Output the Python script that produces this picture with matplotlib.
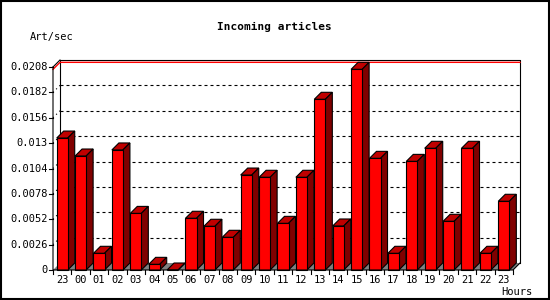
import matplotlib
matplotlib.use('Agg')
import matplotlib.pyplot as plt
from matplotlib.patches import Polygon, Rectangle

# data
hours = ['23', '00', '01', '02', '03', '04', '05', '06', '07', '08', '09', '10',
         '11', '12', '13', '14', '15', '16', '17', '18', '19', '20', '21', '22', '23']
art_sec = [0.01352, 0.01168, 0.00171, 0.0123, 0.0058, 0.00058, 0.0, 0.0053,
           0.00448, 0.00335, 0.00973, 0.0095, 0.00478, 0.0095, 0.01749, 0.00451,
           0.02056, 0.01144, 0.00171, 0.01113, 0.01247, 0.00499, 0.01247, 0.00171,
           0.00704]
yticks = [0, 0.0026, 0.0052, 0.0078, 0.0104, 0.013, 0.0156, 0.0182, 0.0208]
ytick_labels = ['0', '0.0026', '0.0052', '0.0078', '0.0104', '0.013',
                '0.0156', '0.0182', '0.0208']

FONT = 'DejaVu Sans Mono'
FRONT = '#ff0000'
TOP = '#c00000'
SIDE = '#800000'
FLOOR = '#808080'

fig = plt.figure(figsize=(5.5, 3), dpi=100)
fig.patch.set_facecolor('white')
fig.patches.append(Rectangle((0.001, 0.002), 0.997, 0.995, transform=fig.transFigure,
                             fill=False, edgecolor='black', linewidth=1.5))

# front plane of the plot: x 53..513 px, y 270..67 px
ax = fig.add_axes([53 / 550, 30 / 300, 460 / 550, 203 / 300])
ymax = yticks[-1]
ax.set_xlim(-0.5, len(hours) - 0.5)
ax.set_ylim(0, ymax)
ax.axis('off')

px_x = 460 / len(hours)
px_y = 203 / ymax
dx = 7 / px_x
dy = 7 / px_y
x0, x1 = -0.5, len(hours) - 0.5

# floor
ax.add_patch(Polygon([(x0, 0), (x0 + dx, dy), (x1 + dx, dy), (x1, 0)],
                     closed=True, facecolor=FLOOR, edgecolor='none',
                     clip_on=False, zorder=1))

# back wall
ax.plot([x0 + dx, x0 + dx, x1 + dx, x1 + dx], [dy, ymax + dy, ymax + dy, dy],
        color='black', lw=0.8, clip_on=False, zorder=2)
for v in yticks[1:-1]:
    ax.plot([x0 + dx, x1 + dx], [v + dy, v + dy], color='black', lw=0.8,
            linestyle=(0, (2.7, 2.7)), clip_on=False, zorder=2)
    ax.plot([x0, x0 + dx], [v, v + dy], color='black', lw=0.8,
            linestyle=(0, (1, 3)), clip_on=False, zorder=2)

# max line
vmax = max(art_sec)
ax.plot([x0, x0 + dx, x1 + dx], [vmax, vmax + dy, vmax + dy], color='red', lw=1,
        clip_on=False, zorder=2)

# front axis lines
ax.plot([x0, x0 + dx], [ymax, ymax + dy], color='black', lw=0.8, clip_on=False, zorder=2)
ax.plot([x0, x0, x1, x1 + dx], [ymax, 0, 0, dy], color='black', lw=0.8,
        clip_on=False, zorder=6)

# bars
w = 0.6
xs = list(range(len(hours)))
ax.bar(xs, art_sec, width=w, color=FRONT, edgecolor='black', lw=0.8, zorder=5,
       clip_on=False)
for x, v in zip(xs, art_sec):
    l = x - w / 2
    r = x + w / 2
    ax.add_patch(Polygon([(l, v), (r, v), (r + dx, v + dy), (l + dx, v + dy)],
                         closed=True, facecolor=TOP, edgecolor='black', lw=0.8,
                         clip_on=False, zorder=4))
    ax.add_patch(Polygon([(r, 0), (r + dx, dy), (r + dx, v + dy), (r, v)],
                         closed=True, facecolor=SIDE, edgecolor='black', lw=0.8,
                         clip_on=False, zorder=4))

# ticks and labels
tick_len_x = 4 / px_x
tick_len_y = 4 / px_y
for v, lab in zip(yticks, ytick_labels):
    ax.plot([x0 - tick_len_x, x0], [v, v], color='black', lw=0.8, clip_on=False)
    ax.text(x0 - 5 / px_x, v, lab, ha='right', va='center', fontsize=7.5,
            family=FONT, clip_on=False)
for k in range(len(hours) + 1):
    ax.plot([x0 + k, x0 + k], [0, -tick_len_y], color='black', lw=0.8, clip_on=False)
for x, lab in zip(xs, hours):
    ax.text(x, -10 / px_y, lab, ha='center', va='center', fontsize=7.5,
            family=FONT, clip_on=False)

fig.text(274 / 550, 1 - 27 / 300, 'Incoming articles', ha='center', va='center',
         fontsize=8, fontweight='bold', family=FONT)
fig.text(30 / 550, 1 - 37 / 300, 'Art/sec', ha='left', va='center',
         fontsize=7.5, family=FONT)
fig.text(533 / 550, 1 - 292 / 300, 'Hours', ha='right', va='center',
         fontsize=7.5, family=FONT)

fig.savefig('out.png', dpi=100)
plt.close(fig)
